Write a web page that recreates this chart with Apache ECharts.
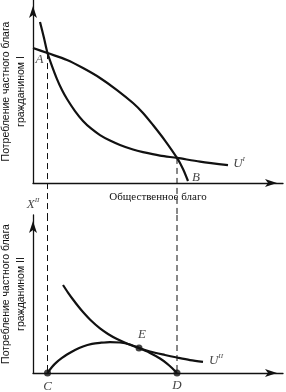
<!DOCTYPE html>
<html>
<head>
<meta charset="utf-8">
<script src="https://cdn.jsdelivr.net/npm/echarts@6/dist/echarts.min.js"></script>
<style>html,body{margin:0;padding:0;background:#fff}#chart{width:286px;height:392px}</style>
</head>
<body>
<div id="chart"></div>
<script>
/*************** данные: верхний график (гражданин I) ***************/
var ppfX = [0, 5.8, 13.6, 20, 26.8, 33.6, 40, 44, 48, 52.8, 57.6, 60, 62];
var ppfY = [73.8, 71, 67.2, 62.8, 57.4, 50.8, 43.7, 38.3, 31.7, 23.2, 13.7, 7.7, 1.1];
var u1X = [2.8, 4.4, 5.8, 7.6, 9.6, 11.6, 13.6, 16.8, 20, 23.2, 26.8, 30.8, 34.8, 40, 44, 50.8, 57.6, 66.8, 78];
var u1Y = [88, 79.2, 71, 63.9, 56.8, 50.8, 45.9, 39.3, 33.9, 29.8, 26.2, 23.2, 20.8, 18.3, 16.9, 15.0, 13.7, 11.7, 9.8];
var pointA = [5.8, 71];
var pointCross = [57.6, 13.7];

/*************** данные: нижний график (гражданин II) ***************/
var humpX = [5.8, 7.6, 9.6, 11.6, 13.6, 16.8, 20, 23.6, 26.8, 30.8, 34.8, 38.8, 42.4, 46.8, 50.8, 53.6, 55.6, 57.6];
var humpY = [0, 3.8, 7.0, 9.5, 11.7, 14.6, 16.8, 18.4, 19.1, 19.6, 19.3, 18.0, 15.8, 12.7, 9.2, 6.0, 3.2, 0];
var u2X = [12, 14, 16, 18, 20, 23.2, 26.8, 30, 33.6, 38, 42.4, 46.8, 52.8, 57.6, 62.8, 68];
var u2Y = [55.7, 50.9, 46.5, 42.4, 38.6, 33.2, 28.2, 24.7, 21.5, 18.4, 15.8, 13.6, 11.4, 9.8, 8.2, 7.0];
var pointC = [5.8, 0];
var pointD = [57.6, 0];
var pointE = [42.4, 15.8];

var gapBottom = -17.5; // пунктир из верхнего графика уходит вниз до нижнего

function zip(xs, ys) {
    var out = [];
    for (var i = 0; i < xs.length; i++) out.push([xs[i], ys[i]]);
    return out;
}

var ink = '#111';
var serifItalic = {fontFamily: 'Liberation Serif', fontStyle: 'italic', fontSize: 13, color: ink};
var supRich = {
    u: {fontFamily: 'Liberation Serif', fontStyle: 'italic', fontSize: 13, color: ink, lineHeight: 14, verticalAlign: 'bottom'},
    s: {fontFamily: 'Liberation Serif', fontStyle: 'italic', fontSize: 7, color: ink, lineHeight: 14, verticalAlign: 'top'}
};

function axisX(idx, name) {
    return {
        type: 'value', gridIndex: idx, min: 0, max: 100,
        name: name, nameLocation: 'middle', nameGap: 9,
        nameTextStyle: {fontFamily: 'Liberation Serif', fontSize: 11, color: ink},
        axisLine: {lineStyle: {color: ink, width: 1.3}, symbol: ['none', 'arrow'], symbolSize: [6, 12], symbolOffset: [0, -6]},
        axisTick: {show: false}, axisLabel: {show: false}, splitLine: {show: false}
    };
}
function axisY(idx, name) {
    return {
        type: 'value', gridIndex: idx, min: 0, max: 100,
        name: name, nameLocation: 'middle', nameGap: 4, nameRotate: 90,
        nameTextStyle: {fontFamily: 'Liberation Sans', fontSize: 10.5, lineHeight: 15, color: ink},
        axisLine: {lineStyle: {color: ink, width: 1.3}, symbol: ['none', 'arrow'], symbolSize: [6, 12], symbolOffset: [0, -6]},
        axisTick: {show: false}, axisLabel: {show: false}, splitLine: {show: false}
    };
}

function curve(idx, data) {
    return {
        type: 'line', xAxisIndex: idx, yAxisIndex: idx, data: data,
        smooth: 0.3, showSymbol: false, silent: true, z: 5,
        lineStyle: {color: ink, width: 2.2}
    };
}
function dashed(idx, data) {
    return {
        type: 'line', xAxisIndex: idx, yAxisIndex: idx, data: data,
        showSymbol: false, silent: true, clip: false, z: 2,
        lineStyle: {color: ink, width: 1, type: [6, 4]}
    };
}
function label(pt, text, offset, rich) {
    return {
        value: pt,
        label: {show: true, position: 'inside', formatter: text, offset: offset, rich: rich}
    };
}

var chart = echarts.init(document.getElementById('chart'));
var option = {
    animation: false,
    grid: [
        {left: 33, top: 0, width: 250, height: 183, outerBoundsMode: 'none'},
        {left: 33, top: 215, width: 250, height: 158, outerBoundsMode: 'none'}
    ],
    xAxis: [axisX(0, 'Общественное благо'), axisX(1, '')],
    yAxis: [
        axisY(0, 'Потребление частного блага\nгражданином I'),
        axisY(1, 'Потребление частного блага\nгражданином II')
    ],
    series: [
        dashed(0, [pointA, [pointA[0], gapBottom]]),
        dashed(0, [pointCross, [pointCross[0], gapBottom]]),
        dashed(1, [[pointC[0], 100], pointC]),
        dashed(1, [[pointD[0], 100], pointD]),
        curve(0, zip(ppfX, ppfY)),
        curve(0, zip(u1X, u1Y)),
        curve(1, zip(humpX, humpY)),
        curve(1, zip(u2X, u2Y)),
        {
            type: 'scatter', xAxisIndex: 1, yAxisIndex: 1, silent: true, z: 6,
            symbolSize: 7, itemStyle: {color: ink},
            label: serifItalic,
            data: [
                label(pointC, 'C', [0, 14]),
                label(pointD, 'D', [0, 13]),
                label(pointE, 'E', [3, -13])
            ]
        },
        {
            type: 'scatter', xAxisIndex: 0, yAxisIndex: 0, silent: true, z: 6,
            symbolSize: 0, label: serifItalic,
            data: [
                label(pointA, 'A', [-8, 7]),
                label([ppfX[ppfX.length - 1], ppfY[ppfY.length - 1]], 'B', [8, -3]),
                label([u1X[u1X.length - 1], u1Y[u1Y.length - 1]], '{u|U}{s|I}', [11, -2], supRich)
            ]
        },
        {
            type: 'scatter', xAxisIndex: 1, yAxisIndex: 1, silent: true, z: 6,
            symbolSize: 0, label: serifItalic,
            data: [
                label([u2X[u2X.length - 1], u2Y[u2Y.length - 1]], '{u|U}{s|II}', [13, -2], supRich),
                label([0, 100], '{u|X}{s|II}', [0, -11], supRich)
            ]
        }
    ]
};
chart.setOption(option);
</script>
</body>
</html>
